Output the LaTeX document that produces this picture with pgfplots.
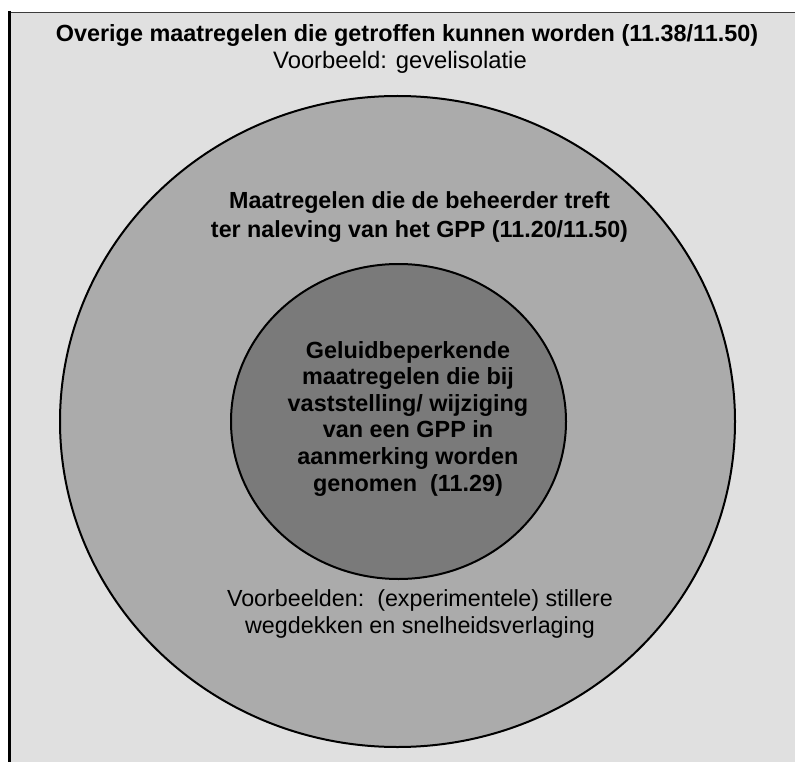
\documentclass[border=0pt]{standalone}
\usepackage{fontspec}
\setmainfont{Liberation Sans}
\usepackage{pgfplots}
\pgfplotsset{compat=1.18}
\definecolor{bg}{RGB}{224,224,224}
\definecolor{midgray}{RGB}{171,171,171}
\definecolor{darkgray}{RGB}{122,122,122}
\definecolor{topline}{RGB}{60,60,60}
\begin{document}
\begin{tikzpicture}
\begin{axis}[width=795pt,height=762pt,scale only axis,
  xmin=0,xmax=795,ymin=0,ymax=762,y dir=reverse,hide axis]
\addplot[draw=none,mark=none,forget plot] coordinates {(0,0) (795,762)};
\fill[white] (axis cs:0,0) rectangle (axis cs:795,762);
\fill[bg] (axis cs:9,12) rectangle (axis cs:795,762);
\draw[topline, line width=1.5pt] (axis cs:9,12.5) -- (axis cs:795,12.5);
\draw[black, line width=3pt] (axis cs:9.5,11) -- (axis cs:9.5,762);
\draw[fill=midgray, line width=2pt] (axis cs:397.5,421.5) ellipse [x radius=337.5, y radius=325.5];
\draw[fill=darkgray, line width=2pt] (axis cs:398.5,421.5) ellipse [x radius=167.5, y radius=157.5];
\node[font=\fontsize{23.4}{26}\selectfont\bfseries] at (axis cs:407,36) {Overige maatregelen die getroffen kunnen worden (11.38/11.50)};
\node[font=\fontsize{23.8}{26}\selectfont] at (axis cs:400,62) {Voorbeeld: gevelisolatie};
\node[font=\fontsize{23.3}{29}\selectfont\bfseries, align=center] at (axis cs:419.5,217.5) {Maatregelen die de beheerder treft\\ter naleving van het GPP (11.20/11.50)};
\node[font=\fontsize{23.4}{26.6}\selectfont\bfseries, align=center] at (axis cs:408,418.5) {Geluidbeperkende\\maatregelen die bij\\vaststelling/ wijziging\\van een GPP in\\aanmerking worden\\genomen\ \ (11.29)};
\node[font=\fontsize{23.3}{27}\selectfont, align=center] at (axis cs:420,613.5) {Voorbeelden:\ \ (experimentele) stillere\\wegdekken en snelheidsverlaging};
\end{axis}
\end{tikzpicture}
\end{document}
